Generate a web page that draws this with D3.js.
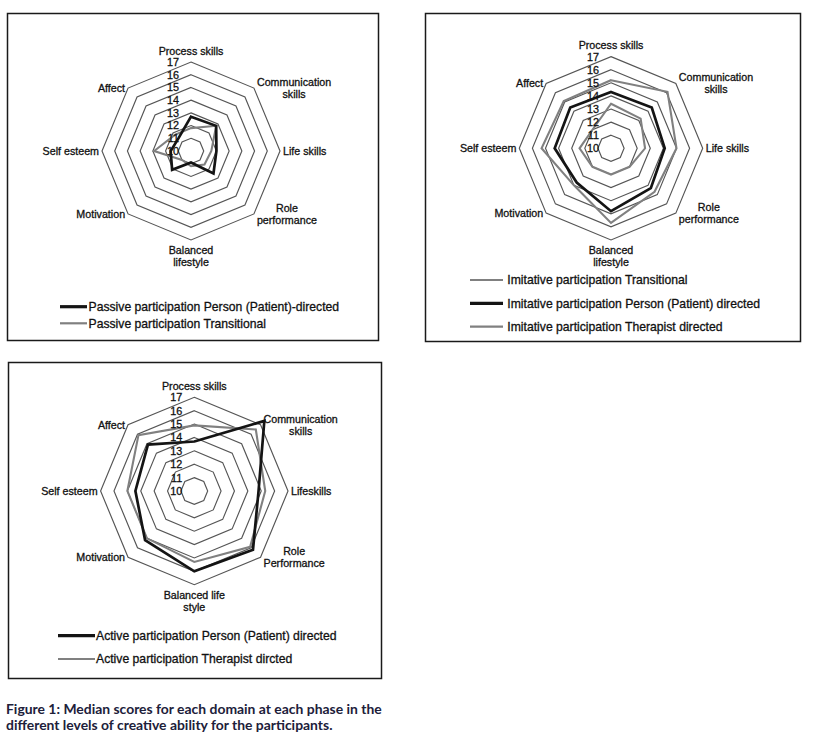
<!DOCTYPE html>
<html><head><meta charset="utf-8">
<script src="https://cdn.jsdelivr.net/npm/d3@7"></script>
<style>body{margin:0;background:#fff;} svg{display:block;}</style>
</head><body>
<svg id="chart" width="818" height="743"></svg>
<script>
// ---------------- data ----------------
const categoriesPassive = ["Process skills","Communication\nskills","Life skills","Role\nperformance","Balanced\nlifestyle","Motivation","Self esteem","Affect"];
const categoriesImitative = ["Process skills","Communication\nskills","Life skills","Role\nperformance","Balanced\nlifestyle","Motivation","Self esteem","Affect"];
const categoriesActive = ["Process skills","Communication\nskills","Lifeskills","Role\nPerformance","Balanced life\nstyle","Motivation","Self esteem","Affect"];
const tickValues = [10,11,12,13,14,15,16,17];

const passivePersonDirected = [12.7, 12.8, 12.0, 12.5, 10.9, 12.1, 11.6, 11.4];
const passiveTransitional   = [11.8, 12.8, 11.6, 11.5, 11.2, 11.0, 12.9, 11.8];

const imitativeTransitional     = [15.2, 16.1, 15.0, 14.7, 15.7, 14.0, 15.3, 15.1];
const imitativePersonDirected   = [14.3, 14.4, 14.1, 14.3, 14.8, 13.7, 14.3, 14.4];
const imitativeTherapistDirected= [13.4, 13.2, 12.6, 12.0, 12.0, 12.0, 12.4, 12.0];

const activePersonDirected    = [13.7, 17.4, 14.8, 16.2, 16.0, 15.2, 14.4, 14.9];
const activeTherapistDirected = [14.9, 16.5, 15.3, 15.9, 15.3, 15.0, 15.0, 15.9];

const legendPassive = ["Passive participation Person (Patient)-directed","Passive participation Transitional"];
const legendImitative = ["Imitative participation Transitional","Imitative participation Person (Patient) directed","Imitative participation Therapist directed"];
const legendActive = ["Active participation Person (Patient) directed","Active participation Therapist dircted"];

const captionLines = ["Figure 1: Median scores for each domain at each phase in the","different levels of creative ability for the participants."];

// ---------------- styles ----------------
const STY = {
  black: {stroke:"#141414", width:2.7, legendWidth:3.2},
  gray:  {stroke:"#808080", width:2.1, legendWidth:2.2}
};
const FONT = "'Liberation Sans', Arial, sans-serif";

const svg = d3.select("#chart");
svg.append("rect").attr("width",818).attr("height",743).attr("fill","#fff");

function styleText(sel, size){
  return sel.attr("font-family",FONT).attr("font-size",size).attr("fill","#111")
    .attr("stroke","#111").attr("stroke-width",0.3);
}

function radar(opt){
  const g = svg.append("g");
  g.append("rect").attr("x",opt.box[0]).attr("y",opt.box[1]).attr("width",opt.box[2]).attr("height",opt.box[3])
    .attr("fill","#fff").attr("stroke","#1a1a1a").attr("stroke-width",1.5);
  const n = opt.categories.length;
  const step = 2*Math.PI/n;
  const r = d3.scaleLinear().domain([tickValues[0], tickValues[tickValues.length-1]]).range([0, opt.R]);
  const line = d3.lineRadial().angle((d,i)=>i*step).radius(d=>r(d)).curve(d3.curveLinearClosed);
  const cg = g.append("g").attr("transform",`translate(${opt.cx},${opt.cy})`);

  // rings
  cg.selectAll("path.ring").data(tickValues.slice(1)).join("path").attr("class","ring")
    .attr("d", t => line(d3.range(n).map(()=>t)))
    .attr("fill","none").attr("stroke","#555").attr("stroke-width",1.15);

  // series
  opt.series.forEach(s=>{
    cg.append("path").attr("d", line(s.values)).attr("fill","none")
      .attr("stroke", STY[s.style].stroke).attr("stroke-width", STY[s.style].width)
      .attr("stroke-linejoin","miter");
  });

  // tick labels
  styleText(cg.selectAll("text.tick").data(tickValues).join("text").attr("class","tick")
    .attr("x",-12).attr("y", t => -r(t)).attr("dy","0.36em")
    .attr("text-anchor","end"), 10.8).text(t=>t);

  // category labels (multi-line blocks centre-aligned inside the block)
  const fs = 10.7, lh = 12;
  opt.categories.forEach((c,i)=>{
    const a = i*step;
    const sx = Math.sin(a), cy = -Math.cos(a);
    const vx = opt.R*sx, vy = opt.R*cy;
    const lines = c.split("\n");
    let firstCenter, side = 0, x0 = 0;
    if (Math.abs(sx) < 0.01){
      if (cy < 0) firstCenter = vy - 5 - lh/2 - (lines.length-1)*lh;
      else firstCenter = vy + 4 + lh/2;
    } else {
      side = sx > 0 ? 1 : -1;
      x0 = vx + side*3;
      firstCenter = vy - (lines.length-1)*lh/2;
    }
    const t = styleText(cg.append("text").attr("text-anchor","middle"), fs);
    const spans = lines.map((ln,k)=> t.append("tspan").attr("y",firstCenter + k*lh + fs*0.36).text(ln));
    const maxW = d3.max(spans, s => s.node().getComputedTextLength());
    const xc = side === 0 ? 0 : x0 + side*maxW/2;
    spans.forEach(s => s.attr("x", xc));
  });

  // legend
  opt.series.map((s,i)=>({s, label:opt.legend[i]})).sort((a,b)=>a.s.legendOrder-b.s.legendOrder)
    .forEach((d,k)=>{
      const y = opt.legendY[k];
      g.append("line").attr("x1",opt.legendX[0]).attr("x2",opt.legendX[1]).attr("y1",y).attr("y2",y)
        .attr("stroke",STY[d.s.style].stroke).attr("stroke-width",STY[d.s.style].legendWidth);
      styleText(g.append("text").attr("x",opt.legendX[2]).attr("y",y).attr("dy","0.36em"), 12.2)
        .text(d.label);
    });
}

radar({
  box:[7.5,13.5,371,327], cx:191, cy:151, R:89,
  categories:categoriesPassive,
  series:[
    {values:passiveTransitional, style:"gray", legendOrder:1},
    {values:passivePersonDirected, style:"black", legendOrder:0}
  ],
  legend:[legendPassive[1], legendPassive[0]],
  legendX:[60,87,88.5], legendY:[306.7,323.3]
});

radar({
  box:[425.5,13.5,375,328], cx:611, cy:148.3, R:91.7,
  categories:categoriesImitative,
  series:[
    {values:imitativeTherapistDirected, style:"gray", legendOrder:2},
    {values:imitativeTransitional, style:"gray", legendOrder:0},
    {values:imitativePersonDirected, style:"black", legendOrder:1}
  ],
  legend:[legendImitative[2], legendImitative[0], legendImitative[1]],
  legendX:[470,503,507.3], legendY:[280,303.3,326.7]
});

radar({
  box:[8.5,362.5,373,316], cx:194.3, cy:491, R:93.7,
  categories:categoriesActive,
  series:[
    {values:activeTherapistDirected, style:"gray", legendOrder:1},
    {values:activePersonDirected, style:"black", legendOrder:0}
  ],
  legend:[legendActive[1], legendActive[0]],
  legendX:[58,95,96], legendY:[635.7,659]
});

// caption
const capTarget = 376;
const capYs = [713.5, 729.5];
let captionFont = 13;
captionLines.forEach((c,i)=>{
  const t = svg.append("text").attr("x",6).attr("y",capYs[i])
    .attr("font-family","Lato, 'Open Sans', sans-serif").attr("font-weight","bold")
    .attr("font-size",13).attr("fill","#20203a").text(c);
  if (i===0){
    const w = t.node().getComputedTextLength();
    captionFont = 13*capTarget/w;
  }
  t.attr("font-size",captionFont);
});
</script>
</body></html>
